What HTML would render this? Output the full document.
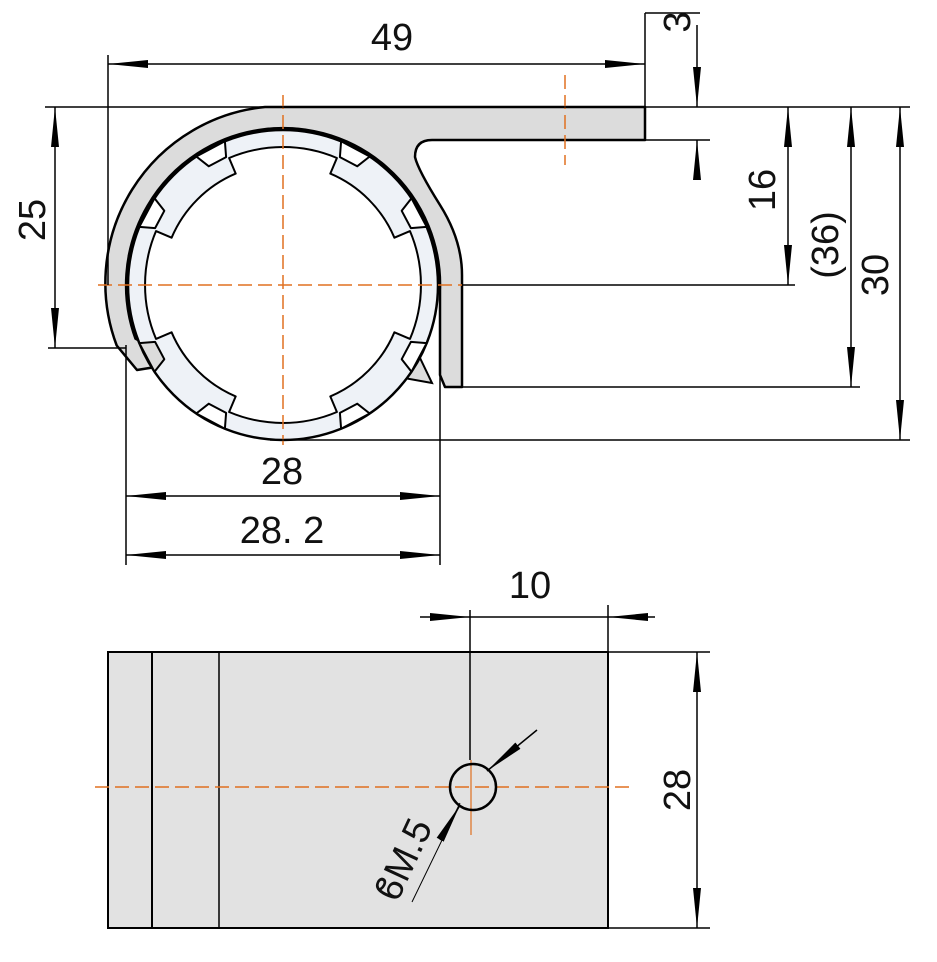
<!DOCTYPE html>
<html><head><meta charset="utf-8"><style>
html,body{margin:0;padding:0;background:#fff}
svg{display:block}
text{font-family:"Liberation Sans Narrow","Liberation Sans",sans-serif;font-size:38px;fill:#111}
</style></head><body>
<svg width="937" height="962" viewBox="0 0 937 962" xmlns="http://www.w3.org/2000/svg">
<defs>
<marker id="a" markerUnits="userSpaceOnUse" markerWidth="40" markerHeight="12" refX="40" refY="6" orient="auto-start-reverse"><path d="M0,2 L40,6 L0,10 Z" fill="#000"/></marker>
</defs>
<!-- housing -->
<path d="M645,107 L645,140 L432,140 Q415,140 415,157 Q418,170 440,205 Q462,240 462,275 L462,387 L445,387 L440,375 L440,290 A157 157 0 1 0 135.5,338.7 L160,352 L162,366 L137,370 L116.7,345.5 A177 177 0 0 1 265,107 Z" fill="#dcdcdc" stroke="#000" stroke-width="2.5" stroke-linejoin="round"/>
<path d="M432,383 L404,378 L398,365 L420,358 Z" fill="#dcdcdc" stroke="#000" stroke-width="2"/>
<!-- ring -->
<circle cx="283" cy="285" r="155" fill="#eef2f7" stroke="#000" stroke-width="2.5"/>
<path d="M410.0,231.1 A138 138 0 0 1 410.0,338.9 L394.4,332.3 A121 121 0 0 1 330.3,396.4 L336.9,412.0 A138 138 0 0 1 229.1,412.0 L235.7,396.4 A121 121 0 0 1 171.6,332.3 L156.0,338.9 A138 138 0 0 1 156.0,231.1 L171.6,237.7 A121 121 0 0 1 235.7,173.6 L229.1,158.0 A138 138 0 0 1 336.9,158.0 L330.3,173.6 A121 121 0 0 1 394.4,237.7 Z" fill="#fff" stroke="#000" stroke-width="2" stroke-linejoin="round"/>
<g transform="translate(283,285)" fill="#fff" stroke="#000" stroke-width="2" stroke-linejoin="round">
<polygon points="143.7,58.1 127.9,56.9 118.7,74.2 128.5,86.7"/>
<polygon points="58.1,143.7 56.9,127.9 74.2,118.7 86.7,128.5"/>
<polygon points="-143.7,58.1 -127.9,56.9 -118.7,74.2 -128.5,86.7" fill="#dcdcdc"/>
<polygon points="-58.1,143.7 -56.9,127.9 -74.2,118.7 -86.7,128.5"/>
<polygon points="143.7,-58.1 127.9,-56.9 118.7,-74.2 128.5,-86.7"/>
<polygon points="58.1,-143.7 56.9,-127.9 74.2,-118.7 86.7,-128.5"/>
<polygon points="-143.7,-58.1 -127.9,-56.9 -118.7,-74.2 -128.5,-86.7"/>
<polygon points="-58.1,-143.7 -56.9,-127.9 -74.2,-118.7 -86.7,-128.5"/>
</g>
<!-- centerlines -->
<g stroke="#e07020" stroke-width="1.5" stroke-dasharray="14,6" fill="none">
<line x1="283" y1="95" x2="283" y2="445"/>
<line x1="98" y1="285" x2="462" y2="285"/>
<line x1="565" y1="75" x2="565" y2="165"/>
</g>
<!-- extension lines -->
<g stroke="#000" stroke-width="1.5" fill="none">
<line x1="108" y1="55" x2="108" y2="285"/>
<line x1="645" y1="13" x2="645" y2="107"/>
<line x1="645" y1="13" x2="700" y2="13"/>
<line x1="45" y1="107" x2="910" y2="107"/>
<line x1="645" y1="140" x2="710" y2="140"/>
<line x1="462" y1="285" x2="795" y2="285"/>
<line x1="462" y1="387" x2="860" y2="387"/>
<line x1="270" y1="440" x2="910" y2="440"/>
<line x1="48" y1="348" x2="126" y2="348"/>
<line x1="126" y1="345" x2="126" y2="565"/>
<line x1="440" y1="300" x2="440" y2="565"/>
</g>
<!-- dimension lines -->
<g stroke="#000" stroke-width="1.5" fill="none">
<line x1="108" y1="64" x2="645" y2="64" marker-start="url(#a)" marker-end="url(#a)"/>
<line x1="697" y1="25" x2="697" y2="107" marker-end="url(#a)"/>
<line x1="697" y1="180" x2="697" y2="140" marker-end="url(#a)"/>
<line x1="788" y1="107" x2="788" y2="285" marker-start="url(#a)" marker-end="url(#a)"/>
<line x1="851" y1="107" x2="851" y2="387" marker-start="url(#a)" marker-end="url(#a)"/>
<line x1="900" y1="107" x2="900" y2="440" marker-start="url(#a)" marker-end="url(#a)"/>
<line x1="55" y1="107" x2="55" y2="348" marker-start="url(#a)" marker-end="url(#a)"/>
<line x1="126" y1="496" x2="440" y2="496" marker-start="url(#a)" marker-end="url(#a)"/>
<line x1="126" y1="555" x2="440" y2="555" marker-start="url(#a)" marker-end="url(#a)"/>
</g>
<text x="392" y="50" text-anchor="middle">49</text>
<text x="282" y="484" text-anchor="middle">28</text>
<text x="282" y="543" text-anchor="middle">28. 2</text>
<text transform="translate(45,220) rotate(-90)" text-anchor="middle">25</text>
<text transform="translate(775,190) rotate(-90)" text-anchor="middle">16</text>
<text transform="translate(838,245) rotate(-90)" text-anchor="middle">(36)</text>
<text transform="translate(888,275) rotate(-90)" text-anchor="middle">30</text>
<text transform="translate(690,22) rotate(-90)" text-anchor="middle">3</text>
<!-- bottom view -->
<rect x="108" y="652" width="500" height="276" fill="#e2e2e2" stroke="#000" stroke-width="2"/>
<line x1="152" y1="652" x2="152" y2="928" stroke="#000" stroke-width="2"/>
<line x1="219" y1="652" x2="219" y2="928" stroke="#000" stroke-width="1.5"/>
<g stroke="#e07020" stroke-width="1.5" stroke-dasharray="14,6">
<line x1="95" y1="787" x2="630" y2="787"/>
</g>
<line x1="471" y1="760" x2="471" y2="835" stroke="#e07020" stroke-width="1.2"/>
<circle cx="473" cy="787" r="23" fill="none" stroke="#000" stroke-width="2.5"/>
<g stroke="#000" stroke-width="1.5" fill="none">
<line x1="470" y1="610" x2="470" y2="760"/>
<line x1="608" y1="605" x2="608" y2="652"/>
<line x1="420" y1="617" x2="470" y2="617" marker-end="url(#a)"/>
<line x1="655" y1="617" x2="608" y2="617" marker-end="url(#a)"/>
<line x1="470" y1="617" x2="608" y2="617"/>
<line x1="608" y1="652" x2="710" y2="652"/>
<line x1="608" y1="928" x2="710" y2="928"/>
<line x1="697" y1="652" x2="697" y2="928" marker-start="url(#a)" marker-end="url(#a)"/>
<line x1="537" y1="730" x2="487" y2="771" marker-end="url(#a)"/>
<line x1="412" y1="902" x2="460" y2="803" stroke-width="1"/>
<line x1="440" y1="840" x2="460" y2="805" marker-end="url(#a)"/>
</g>
<text x="530" y="598" text-anchor="middle">10</text>
<text transform="translate(690,790) rotate(-90)" text-anchor="middle">28</text>
<text transform="translate(415,865) rotate(-65)" text-anchor="middle">ϐM.5</text>
</svg>
</body></html>
